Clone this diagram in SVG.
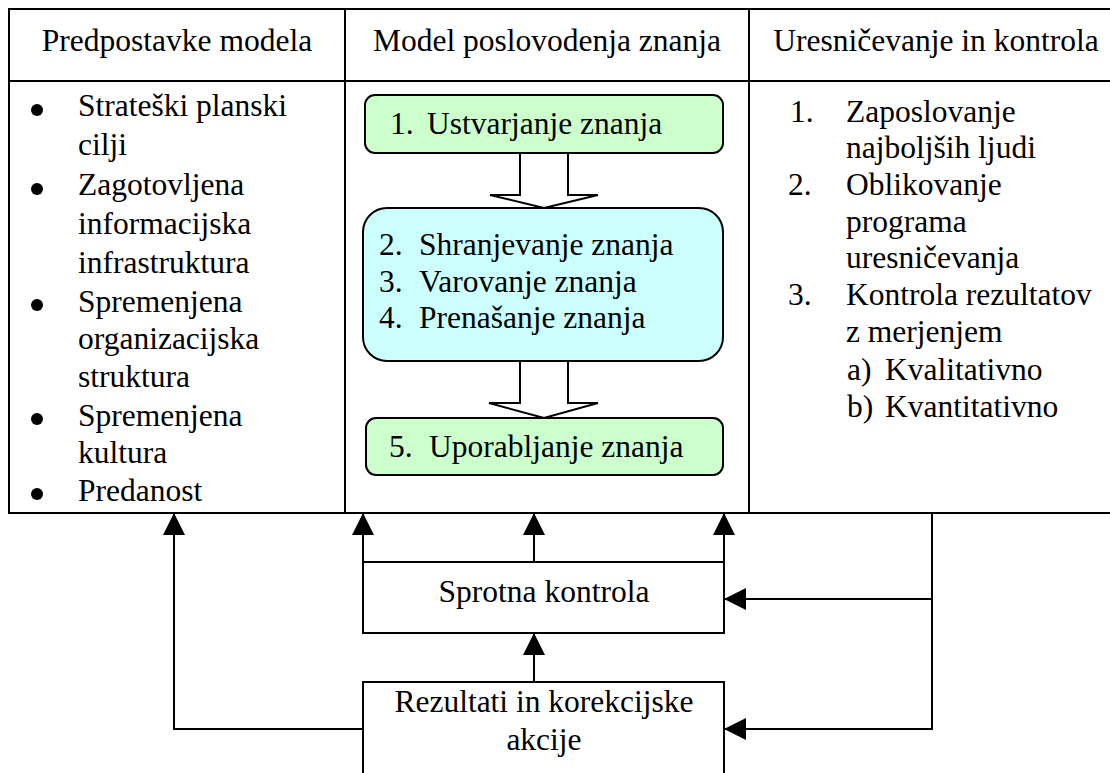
<svg xmlns="http://www.w3.org/2000/svg" width="1110" height="773" viewBox="0 0 1110 773" font-family="'Liberation Serif', 'DejaVu Serif', serif">
<defs>
<style>
text{font-family:'Liberation Serif','DejaVu Serif',serif;font-size:31.5px;fill:#000}
.c{text-anchor:middle}
.ln{fill:none;stroke:#000;stroke-width:2}
.box{fill:#fff;stroke:#000;stroke-width:2}
.g{fill:#ccffcc;stroke:#000;stroke-width:2}
.b{fill:#ccffff;stroke:#000;stroke-width:2}
.ba{fill:#fff;stroke:#000;stroke-width:2;stroke-linejoin:miter}
</style>
<marker id="ah" markerWidth="22" markerHeight="22" refX="22" refY="11" orient="auto" markerUnits="userSpaceOnUse">
<path d="M0,0 L22,11 L0,22 Z" fill="#000"/>
</marker>
</defs>
<rect width="1110" height="773" fill="#fff"/>
<g id="table">
<rect x="9" y="9" width="1114" height="504" class="ln"/>
<line x1="9" y1="81" x2="1123" y2="81" class="ln"/>
<line x1="345" y1="9" x2="345" y2="513" class="ln"/>
<line x1="749" y1="9" x2="749" y2="513" class="ln"/>
<text x="177" y="51" class="c">Predpostavke modela</text>
<text x="547" y="51" class="c">Model poslovodenja znanja</text>
<text x="936" y="51" class="c">Uresničevanje in kontrola</text>
</g>
<g id="predpostavke">
<circle cx="37" cy="110" r="6"/>
<circle cx="37" cy="189" r="6"/>
<circle cx="37" cy="305" r="6"/>
<circle cx="37" cy="419" r="6"/>
<circle cx="37" cy="494" r="6"/>
<text x="78" y="116">Strateški planski</text>
<text x="78" y="155">cilji</text>
<text x="78" y="195">Zagotovljena</text>
<text x="78" y="234">informacijska</text>
<text x="78" y="273">infrastruktura</text>
<text x="78" y="312">Spremenjena</text>
<text x="78" y="349">organizacijska</text>
<text x="78" y="387">struktura</text>
<text x="78" y="426">Spremenjena</text>
<text x="78" y="463">kultura</text>
<text x="78" y="501">Predanost</text>
</g>
<g id="uresnicevanje">
<text x="790" y="122">1.</text><text x="846" y="122">Zaposlovanje</text>
<text x="846" y="158">najboljših ljudi</text>
<text x="788" y="195">2.</text><text x="846" y="195">Oblikovanje</text>
<text x="846" y="232">programa</text>
<text x="846" y="268">uresničevanja</text>
<text x="788" y="305">3.</text><text x="846" y="305">Kontrola rezultatov</text>
<text x="846" y="342">z merjenjem</text>
<text x="847" y="380">a)</text><text x="885" y="380">Kvalitativno</text>
<text x="847" y="417">b)</text><text x="885" y="417">Kvantitativno</text>
</g>
<g id="node1">
<rect x="365" y="95" width="358" height="58" rx="10" class="g"/>
<text x="390" y="134">1.</text><text x="427" y="134">Ustvarjanje znanja</text>
</g>
<g id="node2">
<rect x="363" y="208" width="360" height="153" rx="24" class="b"/>
<text x="379" y="255">2.</text><text x="419" y="255">Shranjevanje znanja</text>
<text x="379" y="292">3.</text><text x="419" y="292">Varovanje znanja</text>
<text x="379" y="328">4.</text><text x="419" y="328">Prenašanje znanja</text>
</g>
<g id="node5">
<rect x="366" y="418" width="357" height="57" rx="10" class="g"/>
<text x="389" y="457">5.</text><text x="429" y="457">Uporabljanje znanja</text>
</g>
<g id="sprotna">
<rect x="363" y="562" width="361" height="71" class="box"/>
<text x="544" y="602" class="c">Sprotna kontrola</text>
</g>
<g id="rezultati">
<rect x="363" y="682" width="361" height="110" class="box"/>
<text x="544" y="712" class="c">Rezultati in korekcijske</text>
<text x="544" y="750" class="c">akcije</text>
</g>
<g id="connectors">
<path d="M520,154 L520,195 L490,195 L544,208 L598,195 L568,195 L568,154" class="ba"/>
<path d="M520,362 L520,403 L489,403 L544,418 L598,403 L568,403 L568,362" class="ba"/>
<path d="M363,729 L174,729 L174,513" class="ln" marker-end="url(#ah)"/>
<path d="M363,562 L363,513" class="ln" marker-end="url(#ah)"/>
<path d="M534,562 L534,513" class="ln" marker-end="url(#ah)"/>
<path d="M724,562 L724,513" class="ln" marker-end="url(#ah)"/>
<path d="M534,682 L534,633" class="ln" marker-end="url(#ah)"/>
<path d="M932,513 L932,729 L724,729" class="ln" marker-end="url(#ah)"/>
<path d="M932,599 L724,599" class="ln" marker-end="url(#ah)"/>
</g>
</svg>
